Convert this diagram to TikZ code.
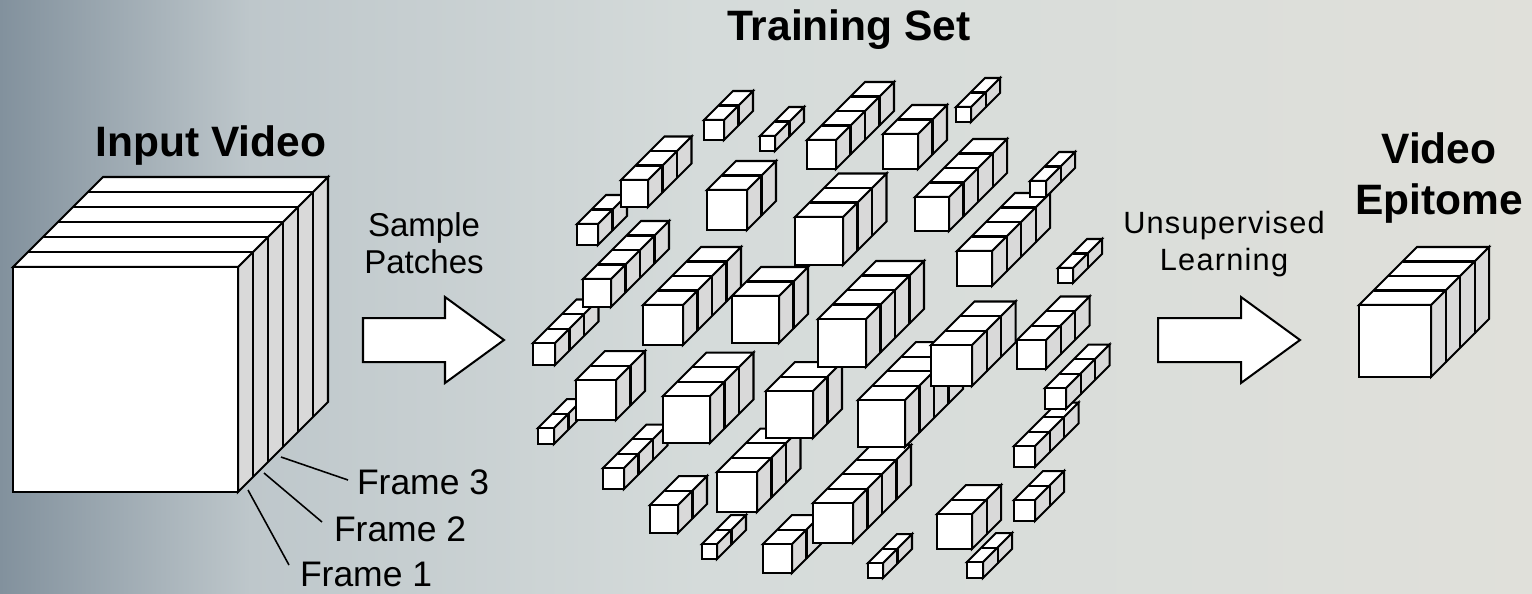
\documentclass[tikz,border=0pt]{standalone}
\usepackage{fontspec}
\setmainfont{Liberation Sans}
\usepackage{tikz}

\definecolor{bgA}{RGB}{130,145,157}
\definecolor{bgB}{RGB}{190,199,203}
\definecolor{bgC}{RGB}{213,219,218}
\definecolor{bgD}{RGB}{224,224,218}
\definecolor{sidegray}{RGB}{217,217,217}

\tikzset{
  face/.style={draw=black, fill=white},
  side/.style={draw=black, fill=sidegray},
  blockarrow/.style={draw=black, fill=white},
  lead/.style={draw=black, line width=0.9pt},
  title/.style={font=\fontsize{24.2}{28.5}\selectfont\bfseries, inner sep=0pt, align=center},
  note/.style={font=\fontsize{18.8}{20.5}\selectfont, inner sep=0pt, align=center},
  notewide/.style={font=\fontsize{17.5}{21}\selectfont\addfontfeature{LetterSpace=4}, inner sep=0pt, align=center},
  framelabel/.style={font=\fontsize{20.2}{24}\selectfont, inner sep=0pt, anchor=base west}
}

% #1,#2 front bottom-left, #3 size, #4 frames, #5 depth of one frame
\newcommand{\patch}[5]{%
  \pgfmathsetmacro{\pdepth}{#4*#5}%
  \pgfmathtruncatemacro{\plast}{#4-1}%
  \draw[side] (#1+#3,#2) -- ++(0,-#3) -- ++(\pdepth,-\pdepth) -- ++(0,#3) -- cycle;
  \draw[face] (#1,#2-#3) -- ++(#3,0) -- ++(\pdepth,-\pdepth) -- ++(-#3,0) -- cycle;
  \foreach \k in {1,...,\plast}
    \draw (#1+\k*#5,#2-#3-\k*#5) -- ++(#3,0) -- ++(0,#3);
  \draw[face] (#1,#2) rectangle ++(#3,-#3);
}

\begin{document}
\begin{tikzpicture}[x=0.02cm, y=-0.02cm, line width=1.15pt]
  \useasboundingbox (0,0) rectangle (1532,593);
  \shade[left color=bgA, right color=bgB] (0,0) rectangle (251,593);
  \shade[left color=bgB, right color=bgC] (250,0) rectangle (701,593);
  \shade[left color=bgC, right color=bgD] (700,0) rectangle (1532,593);

  % input video
  \patch{13}{492}{225}{6}{15}
  \node[title, anchor=base] (input) at (211,156) {Input Video};

  \coordinate (k1) at (248,490);
  \coordinate (k2) at (264,473);
  \coordinate (k3) at (281,457);
  \node[framelabel] (fr3) at (356,494) {Frame 3};
  \node[framelabel] (fr2) at (333,541) {Frame 2};
  \node[framelabel] (fr1) at (299,586) {Frame 1};
  \draw[lead] (k3) -- ([shift={(-8,-14)}]fr3.base west);
  \draw[lead] (k2) -- ([shift={(-11,-19)}]fr2.base west);
  \draw[lead] (k1) -- ([shift={(-10,-21)}]fr1.base west);

  % sampling
  \node[note, anchor=base] (sample) at (424,273) {Sample\\Patches};
  \draw[blockarrow] (363,318) -- (445,318) -- (445,297) -- (504,340)
    -- (445,383) -- (445,362) -- (363,362) -- cycle;

  % training set
  \node[title, anchor=base] (train) at (849,40) {Training Set};
  \foreach \px/\py/\ps/\pn in {
    704/140/20/2, 760/151/15/2, 807/169/29/4, 883/169/35/2, 956/122/15/2,
    577/245/21/2, 621/207/27/3, 707/230/40/2, 795/265/48/3, 915/231/34/4,
    957/286/35/4, 1030/197/16/2, 1058/283/15/2, 533/365/22/3, 583/307/28/4,
    643/345/40/4, 732/343/47/2, 1017/369/29/3, 538/444/16/2, 576/420/40/2,
    603/489/21/3, 663/443/47/3, 717/512/40/3, 766/438/47/2, 818/367/48/4,
    763/573/29/2, 813/543/40/4, 858/447/47/4, 931/386/41/3, 1014/467/21/3,
    1045/409/21/3, 1014/521/21/2, 650/533/28/2, 702/559/15/2, 937/549/35/2,
    967/578/16/2, 868/578/15/2}
    {\patch{\px}{\py}{\ps}{\pn}{14.5}}

  % learning
  \node[notewide, anchor=base] (unsup) at (1224,270) {Unsupervised\\Learning};
  \draw[blockarrow] (1158,318) -- (1241,318) -- (1241,297) -- (1300,340)
    -- (1241,383) -- (1241,362) -- (1158,362) -- cycle;

  % epitome
  \node[title, anchor=base] (epitome) at (1439,214) {Video\\Epitome};
  \patch{1359}{377}{72}{4}{14.5}
\end{tikzpicture}
\end{document}
